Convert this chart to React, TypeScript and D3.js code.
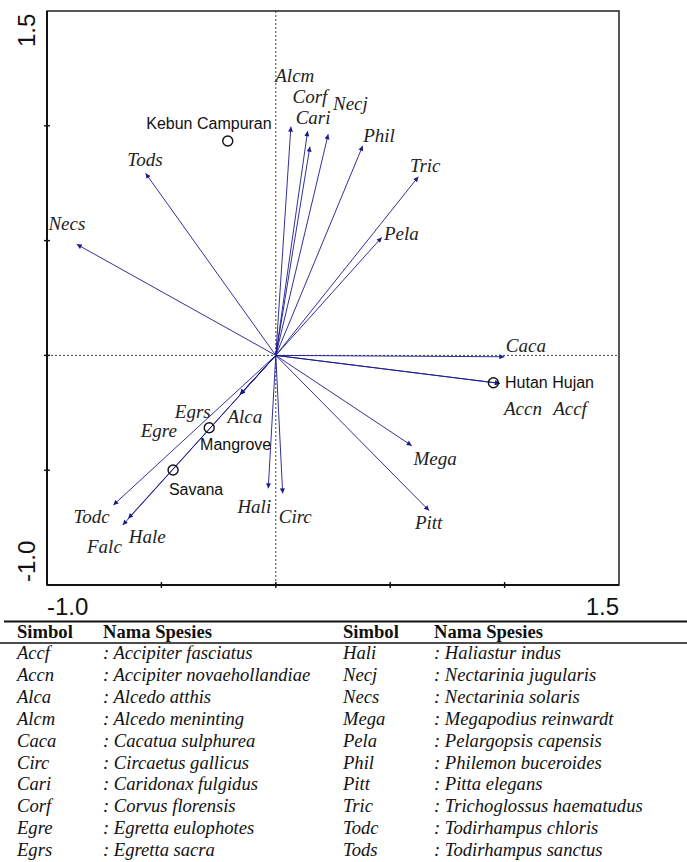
import React from "react";
import * as d3 from "d3";

// Species arrows (CCA biplot scores)
const species = ["Necs","Tods","Alcm","Corf","Cari","Necj","Phil","Tric","Pela","Caca","Accn","Accf","Mega","Pitt","Circ","Hali","Alca","Egre","Egrs","Todc","Hale","Falc"];
const speciesX = [-0.870,-0.569,0.066,0.139,0.149,0.229,0.380,0.623,0.463,0.999,0.980,0.980,0.594,0.670,0.030,-0.033,-0.156,-0.156,-0.156,-0.710,-0.645,-0.669];
const speciesY = [0.484,0.793,0.996,0.977,0.909,0.963,0.913,0.778,0.514,-0.006,-0.122,-0.122,-0.393,-0.676,-0.601,-0.579,-0.170,-0.170,-0.170,-0.652,-0.710,-0.739];
// label anchor (centre, baseline) in data units
const speciesLabelX = [-0.913,-0.572,0.083,0.149,0.163,0.326,0.451,0.653,0.549,1.093,1.080,1.286,0.696,0.668,0.085,-0.094,-0.135,-0.511,-0.363,-0.805,-0.562,-0.749];
const speciesLabelY = [0.546,0.826,1.191,1.099,1.008,1.069,0.931,0.800,0.503,0.016,-0.260,-0.260,-0.477,-0.757,-0.728,-0.688,-0.294,-0.354,-0.274,-0.731,-0.816,-0.862];

// Sites
const sites = ["Kebun Campuran","Mangrove","Savana","Hutan Hujan"];
const siteX = [-0.210,-0.291,-0.449,0.951];
const siteY = [0.934,-0.315,-0.499,-0.119];
const siteLabelX = [-0.018,-0.331,-0.467,1.002];
const siteLabelY = [0.986,-0.412,-0.608,-0.142];
const siteLabelAnchor = ["end","start","start","start"];

const xTicks = [-0.5, 0, 0.5, 1.0];
const yTicks = [-0.5, 0, 0.5, 1.0];
const axisMin = -1.0;
const axisMax = 1.5;

// Legend table
const headerSymbol = "Simbol";
const headerName = "Nama Spesies";
const leftSymbols = ["Accf","Accn","Alca","Alcm","Caca","Circ","Cari","Corf","Egre","Egrs"];
const leftNames = ["Accipiter fasciatus","Accipiter novaehollandiae","Alcedo atthis","Alcedo meninting","Cacatua sulphurea","Circaetus gallicus","Caridonax fulgidus","Corvus florensis","Egretta eulophotes","Egretta sacra"];
const rightSymbols = ["Hali","Necj","Necs","Mega","Pela","Phil","Pitt","Tric","Todc","Tods"];
const rightNames = ["Haliastur indus","Nectarinia jugularis","Nectarinia solaris","Megapodius reinwardt","Pelargopsis capensis","Philemon buceroides","Pitta elegans","Trichoglossus haematudus","Todirhampus chloris","Todirhampus sanctus"];

export default function App() {
  const W = 687, H = 862;
  const L = 47, R = 619, T = 11, B = 585;
  const x = d3.scaleLinear().domain([axisMin, axisMax]).range([L, R]);
  const y = d3.scaleLinear().domain([axisMin, axisMax]).range([B, T]);
  const navy = "#1a1a8c";
  const serif = "'Liberation Serif', 'Times New Roman', serif";
  const sans = "'Liberation Sans', Arial, sans-serif";
  const rowY0 = 659, rowStep = 21.9;
  const tableFont = 18.6;

  return (
    <svg width={W} height={H} style={{ position: "absolute", left: 0, top: 0, background: "#fff" }}>
      <defs>
        <marker id="ah" viewBox="0 0 10 10" refX="10" refY="5" markerWidth="7" markerHeight="5" orient="auto" markerUnits="userSpaceOnUse">
          <path d="M0,0 L10,5 L0,10 z" fill={navy} />
        </marker>
      </defs>
      <rect x={0} y={0} width={W} height={H} fill="#fff" />
      {/* dashed zero lines */}
      <line x1={x(0)} x2={x(0)} y1={T} y2={B} stroke="#444" strokeWidth={1} strokeDasharray="2,2" />
      <line x1={L} x2={R} y1={y(0)} y2={y(0)} stroke="#444" strokeWidth={1} strokeDasharray="2,2" />
      {/* arrows */}
      {species.map((s, i) => (
        <line key={"a" + s} x1={x(0)} y1={y(0)} x2={x(speciesX[i])} y2={y(speciesY[i])} stroke={navy} strokeWidth={0.9} markerEnd="url(#ah)" />
      ))}
      {/* species labels */}
      {species.map((s, i) => (
        <text key={"l" + s} x={x(speciesLabelX[i])} y={y(speciesLabelY[i])} textAnchor="middle" fontFamily={serif} fontStyle="italic" fontSize={19} fill="#222">{s}</text>
      ))}
      {/* sites */}
      {sites.map((s, i) => (
        <g key={"s" + s}>
          <circle cx={x(siteX[i])} cy={y(siteY[i])} r={5} fill="none" stroke="#111" strokeWidth={1.4} />
          <text x={x(siteLabelX[i])} y={y(siteLabelY[i])} textAnchor={siteLabelAnchor[i]} fontFamily={sans} fontSize={16} fill="#111">{s}</text>
        </g>
      ))}
      {/* frame */}
      <rect x={L} y={T} width={R - L} height={B - T} fill="none" stroke="#111" strokeWidth={1.4} />
      <line x1={L} x2={L} y1={T} y2={B} stroke="#111" strokeWidth={2} />
      <line x1={L} x2={R} y1={B} y2={B} stroke="#111" strokeWidth={2} />
      {xTicks.map(t => (
        <line key={"xt" + t} x1={x(t)} x2={x(t)} y1={B - 3} y2={B + 3} stroke="#111" strokeWidth={1.4} />
      ))}
      {yTicks.map(t => (
        <line key={"yt" + t} x1={L - 3} x2={L + 3} y1={y(t)} y2={y(t)} stroke="#111" strokeWidth={1.4} />
      ))}
      {/* axis end labels */}
      <text x={x(axisMin)} y={615} fontFamily={sans} fontSize={24} fill="#111">{axisMin.toFixed(1)}</text>
      <text x={x(axisMax)} y={615} textAnchor="end" fontFamily={sans} fontSize={24} fill="#111">{axisMax.toFixed(1)}</text>
      <text transform={`translate(35,${y(axisMax) + 36}) rotate(-90)`} fontFamily={sans} fontSize={24} fill="#111">{axisMax.toFixed(1)}</text>
      <text transform={`translate(35,${y(axisMin) - 3}) rotate(-90)`} fontFamily={sans} fontSize={24} fill="#111">{axisMin.toFixed(1)}</text>

      {/* legend table */}
      <line x1={4} x2={W} y1={621.5} y2={621.5} stroke="#111" strokeWidth={2} />
      <line x1={0} x2={W} y1={643} y2={643} stroke="#111" strokeWidth={1.6} />
      <text x={17} y={638} fontFamily={serif} fontWeight="bold" fontSize={tableFont} fill="#111">{headerSymbol}</text>
      <text x={103} y={638} fontFamily={serif} fontWeight="bold" fontSize={tableFont} fill="#111">{headerName}</text>
      <text x={343} y={638} fontFamily={serif} fontWeight="bold" fontSize={tableFont} fill="#111">{headerSymbol}</text>
      <text x={434} y={638} fontFamily={serif} fontWeight="bold" fontSize={tableFont} fill="#111">{headerName}</text>
      {leftSymbols.map((s, i) => (
        <g key={"lt" + s}>
          <text x={17} y={rowY0 + i * rowStep} fontFamily={serif} fontStyle="italic" fontSize={tableFont} fill="#111">{s}</text>
          <text x={103} y={rowY0 + i * rowStep} fontFamily={serif} fontStyle="italic" fontSize={tableFont} fill="#111">{": " + leftNames[i]}</text>
        </g>
      ))}
      {rightSymbols.map((s, i) => (
        <g key={"rt" + s}>
          <text x={343} y={rowY0 + i * rowStep} fontFamily={serif} fontStyle="italic" fontSize={tableFont} fill="#111">{s}</text>
          <text x={434} y={rowY0 + i * rowStep} fontFamily={serif} fontStyle="italic" fontSize={tableFont} fill="#111">{": " + rightNames[i]}</text>
        </g>
      ))}
    </svg>
  );
}
